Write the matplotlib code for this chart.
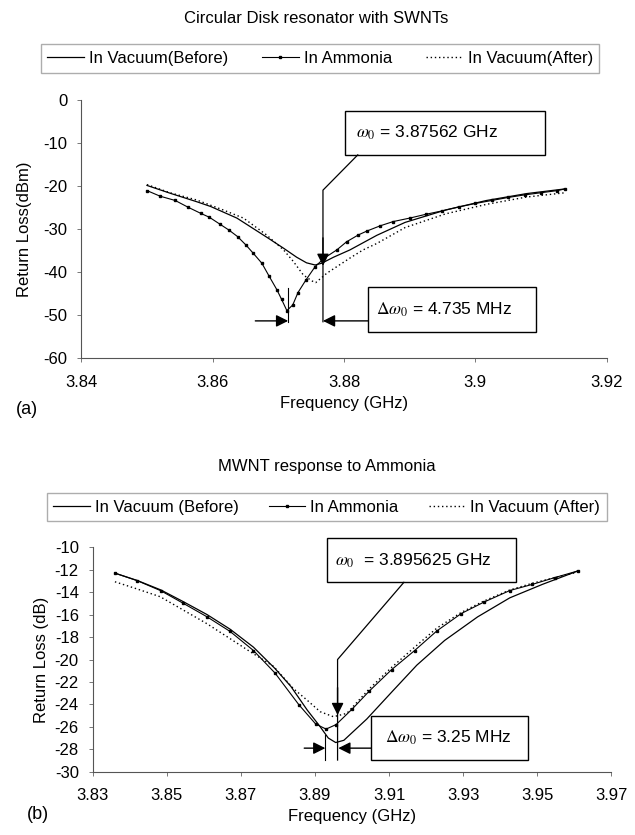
import numpy as np
import matplotlib
matplotlib.use("Agg")
import matplotlib.pyplot as plt
from matplotlib.patches import Rectangle

plt.rcParams['font.family'] = ['Liberation Sans', 'DejaVu Sans']
plt.rcParams['mathtext.fontset'] = 'stix'
plt.rcParams['axes.unicode_minus'] = False

# ---- panel (a): SWNT disk resonator ----
before_a_f = [3.850, 3.8537, 3.8576, 3.8597, 3.8637, 3.8684, 3.8708, 3.8728, 3.8743, 3.8756,
              3.8766, 3.8784, 3.8809, 3.885, 3.8893, 3.8955, 3.9017, 3.9078, 3.9137]
before_a = [-19.8, -21.7, -23.6, -24.7, -27.4, -32.0, -34.4, -36.5, -37.8, -38.3,
            -37.9, -36.5, -34.8, -31.4, -28.4, -25.5, -23.3, -21.7, -20.6]

ammonia_a_f = [3.850, 3.852, 3.8543, 3.8563, 3.8582, 3.8595, 3.8611, 3.8625, 3.8638, 3.8651,
               3.8662, 3.8675, 3.8686, 3.8698, 3.8705, 3.8713, 3.8722, 3.873, 3.8742, 3.8756,
               3.877, 3.8789, 3.8804, 3.8822, 3.8835, 3.8855, 3.8875, 3.890, 3.8925, 3.895,
               3.8975, 3.900, 3.9025, 3.905, 3.9075, 3.910, 3.9125, 3.9137]
ammonia_a = [-21.0, -22.3, -23.3, -24.9, -26.3, -27.2, -28.8, -30.2, -31.7, -33.7,
             -35.6, -37.9, -40.9, -44.1, -46.3, -48.9, -47.6, -44.7, -41.8, -38.7,
             -36.7, -34.8, -32.9, -31.3, -30.4, -29.2, -28.2, -27.4, -26.5, -25.7,
             -24.8, -24.0, -23.3, -22.6, -22.0, -21.5, -21.0, -20.6]

after_a_f = [3.850, 3.8535, 3.8576, 3.8616, 3.8647, 3.8682, 3.8708, 3.8723, 3.8738, 3.8751,
             3.8757, 3.8774, 3.8789, 3.8809, 3.8829, 3.885, 3.8893, 3.8955, 3.9017, 3.9078, 3.9137]
after_a = [-19.6, -21.5, -23.2, -25.5, -27.4, -31.3, -34.8, -37.5, -40.6, -42.0,
           -42.4, -40.2, -38.7, -36.7, -34.8, -33.3, -29.6, -26.4, -24.2, -22.5, -21.5]

# ---- panel (b): MWNT ----
before_b_f = [3.836, 3.842, 3.8484, 3.8545, 3.8609, 3.8671, 3.8734, 3.8792, 3.8835, 3.8879,
              3.8912, 3.8936, 3.8956, 3.8978, 3.904, 3.911, 3.9175, 3.925, 3.9339, 3.9426,
              3.9514, 3.961]
before_b = [-12.3, -12.95, -13.8, -14.85, -16.0, -17.3, -18.9, -20.8, -22.4, -24.5,
            -25.9, -27.0, -27.4, -27.2, -25.3, -22.8, -20.5, -18.3, -16.2, -14.5,
            -13.3, -12.1]

ammonia_b_f = [3.836, 3.842, 3.8484, 3.8545, 3.8609, 3.8671, 3.8734, 3.8792, 3.8857, 3.8902,
               3.893, 3.8957, 3.9001, 3.9047, 3.9107, 3.9169, 3.9229, 3.9295, 3.9355, 3.9426,
               3.9487, 3.9547, 3.961]
ammonia_b = [-12.3, -12.97, -13.87, -15.0, -16.2, -17.5, -19.2, -21.2, -24.05, -25.75,
             -26.2, -25.8, -24.4, -22.8, -20.9, -19.2, -17.45, -15.9, -14.9, -13.85,
             -13.3, -12.7, -12.1]

after_b_f = [3.836, 3.8419, 3.8482, 3.8545, 3.8608, 3.8669, 3.8725, 3.8788, 3.8842, 3.8878,
             3.8914, 3.895, 3.8986, 3.9047, 3.9107, 3.9169, 3.9229, 3.9295, 3.9355, 3.9426,
             3.9487, 3.9547, 3.961]
after_b = [-13.07, -13.7, -14.4, -15.6, -16.8, -18.1, -19.3, -20.6, -22.6, -23.6,
           -24.65, -25.1, -24.8, -22.6, -20.7, -18.9, -17.2, -15.8, -14.8, -13.8,
           -13.2, -12.7, -12.2]

xticks_a = [3.84, 3.86, 3.88, 3.90, 3.92]
xticklabels_a = ['3.84', '3.86', '3.88', '3.9', '3.92']
yticks_a = [0, -10, -20, -30, -40, -50, -60]
xticks_b = [3.83, 3.85, 3.87, 3.89, 3.91, 3.93, 3.95, 3.97]
yticks_b = [-10, -12, -14, -16, -18, -20, -22, -24, -26, -28, -30]

FS = 12

fig = plt.figure(figsize=(6.35, 8.35), dpi=100)
ax1 = fig.add_axes([0.128, 0.5709, 0.8274, 0.309])
ax2 = fig.add_axes([0.146, 0.0758, 0.8167, 0.2687])


def style(ax):
    for s in ['top', 'right']:
        ax.spines[s].set_visible(False)
    for s in ['left', 'bottom']:
        ax.spines[s].set_color('#555555')
        ax.spines[s].set_linewidth(0.8)
    ax.tick_params(direction='out', length=3, width=0.7, color='#777777',
                   labelsize=FS, pad=7)
    ax.tick_params(axis='x', pad=9)


def draw(ax, fb, yb, fa, ya, ff, yf, labels):
    ax.plot(fb, yb, color='black', lw=0.9, label=labels[0])
    ax.plot(fa, ya, color='black', lw=0.8, marker='s', ms=2.1, label=labels[1])
    ax.plot(ff, yf, color='black', lw=1.0, ls=(0, (1, 2)), label=labels[2])


def box(ax, x0, x1, y0, y1, text, tx):
    ax.add_patch(Rectangle((x0, y1), x1 - x0, y0 - y1, fill=False, ec='black', lw=1.0,
                           clip_on=False))
    ax.text(tx, (y0 + y1) / 2, text, fontsize=12.5, va='center', ha='left', clip_on=False)


def arrow(ax, tail, tip):
    ax.annotate('', xy=tip, xytext=tail,
                arrowprops=dict(arrowstyle='-|>', color='black', lw=1.0,
                                mutation_scale=18, shrinkA=0, shrinkB=0))


# panel (a)
draw(ax1, before_a_f, before_a, ammonia_a_f, ammonia_a, after_a_f, after_a,
     ['In Vacuum(Before)', 'In Ammonia', 'In Vacuum(After)'])
style(ax1)
ax1.set_xlim(3.84, 3.92)
ax1.set_ylim(-60, 0)
ax1.set_xticks(xticks_a)
ax1.set_xticklabels(xticklabels_a)
ax1.set_yticks(yticks_a)
ax1.set_xlabel('Frequency (GHz)', fontsize=FS, labelpad=4)
ax1.set_ylabel('Return Loss(dBm)', fontsize=FS, labelpad=8)

box(ax1, 3.8802, 3.9106, -2.5, -12.7, r'$\omega_0$ = 3.87562 GHz', 3.8818)
box(ax1, 3.8837, 3.9092, -43.4, -53.9, r'$\Delta\omega_0$ = 4.735 MHz', 3.8848)
ax1.plot([3.8821, 3.8768, 3.8768], [-12.7, -20.9, -51.5], color='black', lw=0.9)
arrow(ax1, (3.8768, -32.0), (3.8768, -38.5))
ax1.plot([3.8715, 3.8715], [-43.6, -51.5], color='black', lw=0.8)
arrow(ax1, (3.8665, -51.3), (3.8715, -51.3))
arrow(ax1, (3.8837, -51.3), (3.8768, -51.3))

fig.legend(handles=ax1.get_lines()[:3], loc='lower left', mode='expand',
           bbox_to_anchor=(0.064, 0.913, 0.88, 0.035), borderaxespad=0,
           ncol=3, fontsize=FS, frameon=True, fancybox=False, edgecolor='#999999',
           handlelength=2.2, handletextpad=0.3, columnspacing=0.7, borderpad=0.4)
fig.text(0.498, 0.978, 'Circular Disk resonator with SWNTs', fontsize=FS, ha='center', va='center')
fig.text(0.043, 0.509, '(a)', fontsize=FS + 1, ha='center', va='center')

# panel (b)
draw(ax2, before_b_f, before_b, ammonia_b_f, ammonia_b, after_b_f, after_b,
     ['In Vacuum (Before)', 'In Ammonia', 'In Vacuum (After)'])
style(ax2)
ax2.set_xlim(3.83, 3.97)
ax2.set_ylim(-30, -10)
ax2.set_xticks(xticks_b)
ax2.set_xticklabels(['%.2f' % v for v in xticks_b])
ax2.set_yticks(yticks_b)
ax2.set_xlabel('Frequency (GHz)', fontsize=FS, labelpad=4)
ax2.set_ylabel('Return Loss (dB)', fontsize=FS, labelpad=4)

box(ax2, 3.8933, 3.9444, -9.2, -13.12, r'$\omega_0$  = 3.895625 GHz', 3.8955)
box(ax2, 3.9051, 3.9474, -25.0, -28.96, r'$\Delta\omega_0$ = 3.25 MHz', 3.9088)
ax2.plot([3.914, 3.8961, 3.8961], [-13.12, -20.0, -28.96], color='black', lw=0.9)
arrow(ax2, (3.8961, -22.5), (3.8961, -24.95))
ax2.plot([3.8928, 3.8928], [-26.7, -28.96], color='black', lw=0.8)
arrow(ax2, (3.8871, -27.9), (3.8928, -27.9))
arrow(ax2, (3.9051, -27.9), (3.8963, -27.9))

fig.legend(handles=ax2.get_lines()[:3], loc='lower left', mode='expand',
           bbox_to_anchor=(0.0735, 0.3755, 0.882, 0.034), borderaxespad=0,
           ncol=3, fontsize=FS, frameon=True, fancybox=False, edgecolor='#999999',
           handlelength=2.2, handletextpad=0.3, columnspacing=0.5, borderpad=0.4)
fig.text(0.515, 0.441, 'MWNT response to Ammonia', fontsize=FS, ha='center', va='center')
fig.text(0.06, 0.024, '(b)', fontsize=FS + 1, ha='center', va='center')

fig.savefig('out.png', dpi=100)
